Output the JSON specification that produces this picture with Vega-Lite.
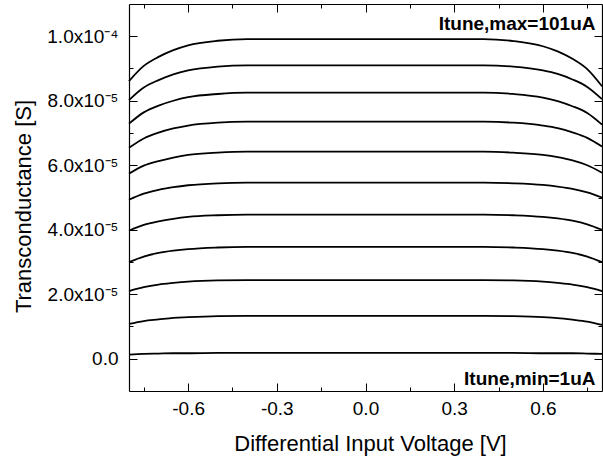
{
  "$schema": "https://vega.github.io/schema/vega-lite/v6.json",
  "width": 473,
  "height": 387,
  "autosize": {"type": "none"},
  "padding": {"left": 129, "top": 4, "right": 1, "bottom": 66},
  "background": "white",
  "config": {
    "view": {"stroke": null},
    "font": "Liberation Sans",
    "axis": {"grid": false, "domainColor": "black", "domainWidth": 1.2, "tickColor": "black", "tickWidth": 1, "labelColor": "black", "titleColor": "black", "labelFont": "Liberation Sans", "titleFont": "Liberation Sans", "labelFontSize": 19, "titleFontSize": 22, "titleFontWeight": "normal", "labelOverlap": false, "labelFlush": false}
  },
  "datasets": {
    "curves": [
      {"I": 101, "V": -0.8, "gm": 8.61e-5}, {"I": 101, "V": -0.75, "gm": 9.08e-5}, {"I": 101, "V": -0.7, "gm": 9.36e-5}, {"I": 101, "V": -0.65, "gm": 9.57e-5}, {"I": 101, "V": -0.6, "gm": 9.72e-5}, {"I": 101, "V": -0.5, "gm": 9.86e-5}, {"I": 101, "V": -0.4, "gm": 9.91e-5}, {"I": 101, "V": 0, "gm": 9.91e-5}, {"I": 101, "V": 0.4, "gm": 9.91e-5}, {"I": 101, "V": 0.5, "gm": 9.85e-5}, {"I": 101, "V": 0.6, "gm": 9.69e-5}, {"I": 101, "V": 0.65, "gm": 9.53e-5}, {"I": 101, "V": 0.7, "gm": 9.30e-5}, {"I": 101, "V": 0.75, "gm": 8.98e-5}, {"I": 101, "V": 0.8, "gm": 8.45e-5},
      {"I": 91, "V": -0.8, "gm": 8.02e-5}, {"I": 91, "V": -0.75, "gm": 8.41e-5}, {"I": 91, "V": -0.7, "gm": 8.64e-5}, {"I": 91, "V": -0.65, "gm": 8.82e-5}, {"I": 91, "V": -0.6, "gm": 8.94e-5}, {"I": 91, "V": -0.5, "gm": 9.06e-5}, {"I": 91, "V": -0.4, "gm": 9.10e-5}, {"I": 91, "V": 0, "gm": 9.10e-5}, {"I": 91, "V": 0.4, "gm": 9.10e-5}, {"I": 91, "V": 0.5, "gm": 9.06e-5}, {"I": 91, "V": 0.6, "gm": 8.94e-5}, {"I": 91, "V": 0.65, "gm": 8.83e-5}, {"I": 91, "V": 0.7, "gm": 8.66e-5}, {"I": 91, "V": 0.75, "gm": 8.43e-5}, {"I": 91, "V": 0.8, "gm": 8.05e-5},
      {"I": 81, "V": -0.8, "gm": 7.29e-5}, {"I": 81, "V": -0.75, "gm": 7.64e-5}, {"I": 81, "V": -0.7, "gm": 7.85e-5}, {"I": 81, "V": -0.65, "gm": 8.00e-5}, {"I": 81, "V": -0.6, "gm": 8.11e-5}, {"I": 81, "V": -0.5, "gm": 8.21e-5}, {"I": 81, "V": -0.4, "gm": 8.25e-5}, {"I": 81, "V": 0, "gm": 8.25e-5}, {"I": 81, "V": 0.4, "gm": 8.25e-5}, {"I": 81, "V": 0.5, "gm": 8.21e-5}, {"I": 81, "V": 0.6, "gm": 8.10e-5}, {"I": 81, "V": 0.65, "gm": 7.99e-5}, {"I": 81, "V": 0.7, "gm": 7.83e-5}, {"I": 81, "V": 0.75, "gm": 7.62e-5}, {"I": 81, "V": 0.8, "gm": 7.26e-5},
      {"I": 71, "V": -0.8, "gm": 6.54e-5}, {"I": 71, "V": -0.75, "gm": 6.83e-5}, {"I": 71, "V": -0.7, "gm": 7.01e-5}, {"I": 71, "V": -0.65, "gm": 7.14e-5}, {"I": 71, "V": -0.6, "gm": 7.23e-5}, {"I": 71, "V": -0.5, "gm": 7.32e-5}, {"I": 71, "V": -0.4, "gm": 7.35e-5}, {"I": 71, "V": 0, "gm": 7.35e-5}, {"I": 71, "V": 0.4, "gm": 7.35e-5}, {"I": 71, "V": 0.5, "gm": 7.32e-5}, {"I": 71, "V": 0.6, "gm": 7.23e-5}, {"I": 71, "V": 0.65, "gm": 7.15e-5}, {"I": 71, "V": 0.7, "gm": 7.02e-5}, {"I": 71, "V": 0.75, "gm": 6.85e-5}, {"I": 71, "V": 0.8, "gm": 6.58e-5},
      {"I": 61, "V": -0.8, "gm": 5.74e-5}, {"I": 61, "V": -0.75, "gm": 5.99e-5}, {"I": 61, "V": -0.7, "gm": 6.13e-5}, {"I": 61, "V": -0.65, "gm": 6.24e-5}, {"I": 61, "V": -0.6, "gm": 6.32e-5}, {"I": 61, "V": -0.5, "gm": 6.39e-5}, {"I": 61, "V": -0.4, "gm": 6.42e-5}, {"I": 61, "V": 0, "gm": 6.42e-5}, {"I": 61, "V": 0.4, "gm": 6.42e-5}, {"I": 61, "V": 0.5, "gm": 6.39e-5}, {"I": 61, "V": 0.6, "gm": 6.32e-5}, {"I": 61, "V": 0.65, "gm": 6.25e-5}, {"I": 61, "V": 0.7, "gm": 6.15e-5}, {"I": 61, "V": 0.75, "gm": 6.00e-5}, {"I": 61, "V": 0.8, "gm": 5.77e-5},
      {"I": 51, "V": -0.8, "gm": 4.93e-5}, {"I": 51, "V": -0.75, "gm": 5.12e-5}, {"I": 51, "V": -0.7, "gm": 5.24e-5}, {"I": 51, "V": -0.65, "gm": 5.32e-5}, {"I": 51, "V": -0.6, "gm": 5.38e-5}, {"I": 51, "V": -0.5, "gm": 5.44e-5}, {"I": 51, "V": -0.4, "gm": 5.46e-5}, {"I": 51, "V": 0, "gm": 5.46e-5}, {"I": 51, "V": 0.4, "gm": 5.46e-5}, {"I": 51, "V": 0.5, "gm": 5.44e-5}, {"I": 51, "V": 0.6, "gm": 5.39e-5}, {"I": 51, "V": 0.65, "gm": 5.34e-5}, {"I": 51, "V": 0.7, "gm": 5.27e-5}, {"I": 51, "V": 0.75, "gm": 5.16e-5}, {"I": 51, "V": 0.8, "gm": 5.00e-5},
      {"I": 41, "V": -0.8, "gm": 3.97e-5}, {"I": 41, "V": -0.75, "gm": 4.15e-5}, {"I": 41, "V": -0.7, "gm": 4.26e-5}, {"I": 41, "V": -0.65, "gm": 4.34e-5}, {"I": 41, "V": -0.6, "gm": 4.40e-5}, {"I": 41, "V": -0.5, "gm": 4.45e-5}, {"I": 41, "V": -0.4, "gm": 4.47e-5}, {"I": 41, "V": 0, "gm": 4.47e-5}, {"I": 41, "V": 0.4, "gm": 4.47e-5}, {"I": 41, "V": 0.5, "gm": 4.45e-5}, {"I": 41, "V": 0.6, "gm": 4.40e-5}, {"I": 41, "V": 0.65, "gm": 4.35e-5}, {"I": 41, "V": 0.7, "gm": 4.28e-5}, {"I": 41, "V": 0.75, "gm": 4.17e-5}, {"I": 41, "V": 0.8, "gm": 4.00e-5},
      {"I": 31, "V": -0.8, "gm": 3.00e-5}, {"I": 31, "V": -0.75, "gm": 3.17e-5}, {"I": 31, "V": -0.7, "gm": 3.28e-5}, {"I": 31, "V": -0.65, "gm": 3.35e-5}, {"I": 31, "V": -0.6, "gm": 3.40e-5}, {"I": 31, "V": -0.5, "gm": 3.45e-5}, {"I": 31, "V": -0.4, "gm": 3.47e-5}, {"I": 31, "V": 0, "gm": 3.47e-5}, {"I": 31, "V": 0.4, "gm": 3.47e-5}, {"I": 31, "V": 0.5, "gm": 3.45e-5}, {"I": 31, "V": 0.6, "gm": 3.40e-5}, {"I": 31, "V": 0.65, "gm": 3.35e-5}, {"I": 31, "V": 0.7, "gm": 3.28e-5}, {"I": 31, "V": 0.75, "gm": 3.17e-5}, {"I": 31, "V": 0.8, "gm": 3.00e-5},
      {"I": 21, "V": -0.8, "gm": 2.10e-5}, {"I": 21, "V": -0.75, "gm": 2.22e-5}, {"I": 21, "V": -0.7, "gm": 2.30e-5}, {"I": 21, "V": -0.65, "gm": 2.35e-5}, {"I": 21, "V": -0.6, "gm": 2.39e-5}, {"I": 21, "V": -0.5, "gm": 2.43e-5}, {"I": 21, "V": -0.4, "gm": 2.44e-5}, {"I": 21, "V": 0, "gm": 2.44e-5}, {"I": 21, "V": 0.4, "gm": 2.44e-5}, {"I": 21, "V": 0.5, "gm": 2.43e-5}, {"I": 21, "V": 0.6, "gm": 2.39e-5}, {"I": 21, "V": 0.65, "gm": 2.35e-5}, {"I": 21, "V": 0.7, "gm": 2.30e-5}, {"I": 21, "V": 0.75, "gm": 2.22e-5}, {"I": 21, "V": 0.8, "gm": 2.10e-5},
      {"I": 11, "V": -0.8, "gm": 1.08e-5}, {"I": 11, "V": -0.75, "gm": 1.17e-5}, {"I": 11, "V": -0.7, "gm": 1.22e-5}, {"I": 11, "V": -0.65, "gm": 1.27e-5}, {"I": 11, "V": -0.6, "gm": 1.29e-5}, {"I": 11, "V": -0.5, "gm": 1.32e-5}, {"I": 11, "V": -0.4, "gm": 1.33e-5}, {"I": 11, "V": 0, "gm": 1.33e-5}, {"I": 11, "V": 0.4, "gm": 1.33e-5}, {"I": 11, "V": 0.5, "gm": 1.32e-5}, {"I": 11, "V": 0.6, "gm": 1.29e-5}, {"I": 11, "V": 0.65, "gm": 1.26e-5}, {"I": 11, "V": 0.7, "gm": 1.21e-5}, {"I": 11, "V": 0.75, "gm": 1.15e-5}, {"I": 11, "V": 0.8, "gm": 1.05e-5},
      {"I": 1, "V": -0.8, "gm": 0.13e-5}, {"I": 1, "V": -0.75, "gm": 0.15e-5}, {"I": 1, "V": -0.7, "gm": 0.16e-5}, {"I": 1, "V": -0.65, "gm": 0.17e-5}, {"I": 1, "V": -0.6, "gm": 0.17e-5}, {"I": 1, "V": -0.5, "gm": 0.18e-5}, {"I": 1, "V": -0.4, "gm": 0.18e-5}, {"I": 1, "V": 0, "gm": 0.18e-5}, {"I": 1, "V": 0.4, "gm": 0.18e-5}, {"I": 1, "V": 0.5, "gm": 0.18e-5}, {"I": 1, "V": 0.6, "gm": 0.17e-5}, {"I": 1, "V": 0.65, "gm": 0.17e-5}, {"I": 1, "V": 0.7, "gm": 0.17e-5}, {"I": 1, "V": 0.75, "gm": 0.16e-5}, {"I": 1, "V": 0.8, "gm": 0.15e-5}
    ],
    "notes": [
      {"label": "Itune,max=101uA", "V": 0.778, "gm": 1.039e-4},
      {"label": "Itune,min=1uA", "V": 0.778, "gm": -0.62e-5}
    ]
  },
  "layer": [
    {
      "data": {"name": "curves"},
      "mark": {"type": "line", "color": "black", "strokeWidth": 1.8, "interpolate": "monotone"},
      "encoding": {
        "x": {"field": "V", "type": "quantitative", "scale": {"domain": [-0.8, 0.8], "nice": false, "zero": false},
          "axis": {"orient": "bottom", "values": [-0.75, -0.6, -0.45, -0.3, -0.15, 0, 0.15, 0.3, 0.45, 0.6, 0.75],
            "labelExpr": "abs(datum.value/0.3-round(datum.value/0.3))<0.01 ? replace(format(datum.value,'.1f'),'\u2212','-') : ''",
            "tickSize": {"condition": {"test": "abs(datum.value/0.3-round(datum.value/0.3))<0.01", "value": -8}, "value": -4},
            "labelPadding": 16,
            "title": "Differential Input Voltage [V]", "titleX": 241, "titleY": 52, "titleBaseline": "middle", "titleAlign": "center"}},
        "y": {"field": "gm", "type": "quantitative", "scale": {"domain": [-1e-5, 1.1e-4], "nice": false, "zero": false},
          "axis": {"orient": "left", "values": [0, 1e-5, 2e-5, 3e-5, 4e-5, 5e-5, 6e-5, 7e-5, 8e-5, 9e-5, 1e-4],
            "labelExpr": "datum.value==0 ? '0.0' : (datum.value>9.9e-5 ? '1.0x10\u207b\u2074' : (round(datum.value*1e5)%2==0 ? format(datum.value*1e5,'.1f')+'x10\u207b\u2075' : ''))",
            "tickSize": {"condition": {"test": "round(datum.value*1e5)%2==0", "value": -8}, "value": -4},
            "labelPadding": 19,
            "title": "Transconductance [S]", "titleX": -106, "titleY": 202, "titleBaseline": "middle", "titleAlign": "center", "titleAngle": 270}},
        "detail": {"field": "I", "type": "nominal"}
      }
    },
    {
      "data": {"name": "curves"},
      "mark": {"type": "line", "opacity": 0},
      "encoding": {
        "x": {"field": "V", "type": "quantitative", "scale": {"domain": [-0.8, 0.8], "nice": false, "zero": false},
          "axis": {"orient": "top", "values": [-0.75, -0.6, -0.45, -0.3, -0.15, 0, 0.15, 0.3, 0.45, 0.6, 0.75], "labels": false, "title": null,
            "tickSize": {"condition": {"test": "abs(datum.value/0.3-round(datum.value/0.3))<0.01", "value": -8}, "value": -4}}},
        "y": {"field": "gm", "type": "quantitative", "scale": {"domain": [-1e-5, 1.1e-4], "nice": false, "zero": false},
          "axis": {"orient": "right", "values": [0, 1e-5, 2e-5, 3e-5, 4e-5, 5e-5, 6e-5, 7e-5, 8e-5, 9e-5, 1e-4], "labels": false, "title": null,
            "tickSize": {"condition": {"test": "round(datum.value*1e5)%2==0", "value": -8}, "value": -4}}},
        "detail": {"field": "I", "type": "nominal"}
      }
    },
    {
      "data": {"name": "notes"},
      "mark": {"type": "text", "align": "right", "baseline": "middle", "font": "Liberation Sans", "fontSize": 19, "fontWeight": "bold", "color": "black"},
      "encoding": {
        "x": {"field": "V", "type": "quantitative", "scale": {"domain": [-0.8, 0.8], "nice": false, "zero": false}, "axis": null},
        "y": {"field": "gm", "type": "quantitative", "scale": {"domain": [-1e-5, 1.1e-4], "nice": false, "zero": false}, "axis": null},
        "text": {"field": "label"}
      }
    }
  ],
  "resolve": {"axis": {"x": "independent", "y": "independent"}}
}
